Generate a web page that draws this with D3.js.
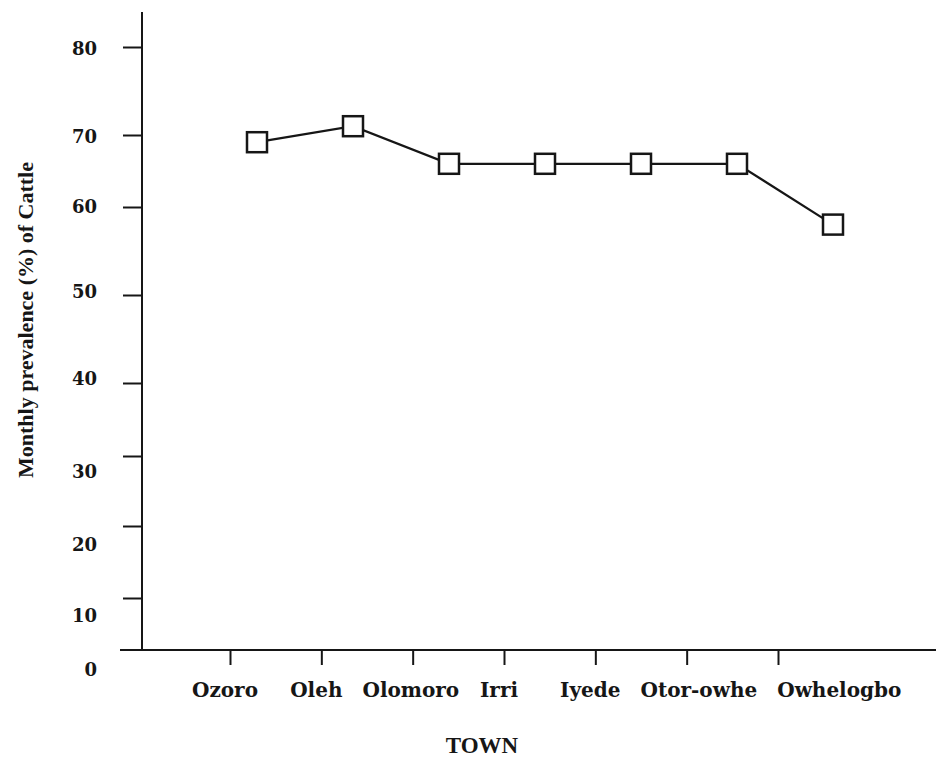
<!DOCTYPE html>
<html>
<head>
<meta charset="utf-8">
<script src="https://cdn.jsdelivr.net/npm/d3@7"></script>
<style>
  html, body { margin: 0; padding: 0; background: #fff; }
  svg { display: block; }
</style>
</head>
<body>
<div id="chart"></div>
<script>
// ===== DATA =====
const towns = ['Ozoro', 'Oleh', 'Olomoro', 'Irri', 'Iyede', 'Otor-owhe', 'Owhelogbo'];
const prevalence = [69, 71, 66, 66, 66, 66, 58];
const yTicks = [0, 10, 20, 30, 40, 50, 60, 70, 80];

// ===== LAYOUT =====
const width = 936;
const height = 760;
const axisX = 142;
const axisY = 650;
const ink = '#161616';

// scanned figure: tick spacing is uneven, so the scale is piecewise
const y = d3.scaleLinear()
  .domain(yTicks)
  .range([650, 598, 526, 456, 383, 295, 207, 135, 47]);

// tick labels sit a little off their ticks in the original
const yLabel = d3.scaleLinear()
  .domain(yTicks)
  .range([670, 616, 545, 472, 379, 292, 207, 137, 49]);

const xPoint = d3.scalePoint().domain(towns).range([257, 833]);
const xTick = d3.scalePoint().domain(towns).range([230, 778]);

const svg = d3.select('#chart')
  .append('svg')
  .attr('width', width)
  .attr('height', height);

// y axis
svg.append('line')
  .attr('x1', axisX).attr('x2', axisX)
  .attr('y1', 12).attr('y2', axisY)
  .attr('stroke', ink)
  .attr('stroke-width', 2);

const yAxis = svg.append('g')
  .attr('transform', `translate(${axisX},0)`)
  .call(d3.axisLeft(y).tickValues(yTicks.slice(1)).tickSize(19).tickFormat(''));
yAxis.select('.domain').remove();
yAxis.selectAll('.tick line').attr('stroke', ink).attr('stroke-width', 2);

svg.append('g')
  .selectAll('text')
  .data(yTicks)
  .join('text')
  .attr('x', 97)
  .attr('y', d => yLabel(d))
  .attr('dy', '0.36em')
  .attr('text-anchor', 'end')
  .attr('font-family', '"DejaVu Serif", serif')
  .attr('font-weight', 'bold')
  .attr('font-size', 18)
  .attr('fill', ink)
  .text(d => d);

// x axis
svg.append('line')
  .attr('x1', 120).attr('x2', width)
  .attr('y1', axisY).attr('y2', axisY)
  .attr('stroke', ink)
  .attr('stroke-width', 2);

const xAxis = svg.append('g')
  .attr('transform', `translate(0,${axisY})`)
  .call(d3.axisBottom(xTick).tickSize(15).tickFormat(''));
xAxis.select('.domain').remove();
xAxis.selectAll('.tick line').attr('stroke', ink).attr('stroke-width', 2);

// town names: centred near their ticks, then pushed right where they collide
const minGap = 20;
const labelShift = -5;
const townLabels = svg.append('g')
  .selectAll('text')
  .data(towns)
  .join('text')
  .attr('y', 697)
  .attr('font-family', '"DejaVu Serif", serif')
  .attr('font-weight', 'bold')
  .attr('font-size', 20)
  .attr('fill', ink)
  .text(d => d);

const widths = townLabels.nodes().map(n => n.getComputedTextLength());
let lastRight = -Infinity;
const lefts = towns.map((t, i) => {
  const left = Math.max(xTick(t) + labelShift - widths[i] / 2, lastRight + minGap);
  lastRight = left + widths[i];
  return left;
});
townLabels.attr('x', (d, i) => lefts[i]);

// axis titles
svg.append('text')
  .attr('x', 482)
  .attr('y', 753)
  .attr('text-anchor', 'middle')
  .attr('font-family', '"Liberation Serif", serif')
  .attr('font-weight', 'bold')
  .attr('font-size', 23)
  .attr('fill', ink)
  .text('TOWN');

svg.append('text')
  .attr('transform', 'translate(33,320) rotate(-90)')
  .attr('text-anchor', 'middle')
  .attr('font-family', '"Liberation Serif", serif')
  .attr('font-weight', 'bold')
  .attr('font-size', 21)
  .attr('textLength', 316)
  .attr('lengthAdjust', 'spacingAndGlyphs')
  .attr('fill', ink)
  .text('Monthly prevalence (%) of Cattle');

// series
const points = towns.map((t, i) => ({ town: t, value: prevalence[i] }));

svg.append('path')
  .datum(points)
  .attr('fill', 'none')
  .attr('stroke', ink)
  .attr('stroke-width', 2.2)
  .attr('d', d3.line().x(d => xPoint(d.town)).y(d => y(d.value)));

const boxSize = 20;
svg.append('g')
  .selectAll('rect')
  .data(points)
  .join('rect')
  .attr('x', d => xPoint(d.town) - boxSize / 2)
  .attr('y', d => y(d.value) - boxSize / 2)
  .attr('width', boxSize)
  .attr('height', boxSize)
  .attr('fill', '#fff')
  .attr('stroke', ink)
  .attr('stroke-width', 2.5);
</script>
</body>
</html>
